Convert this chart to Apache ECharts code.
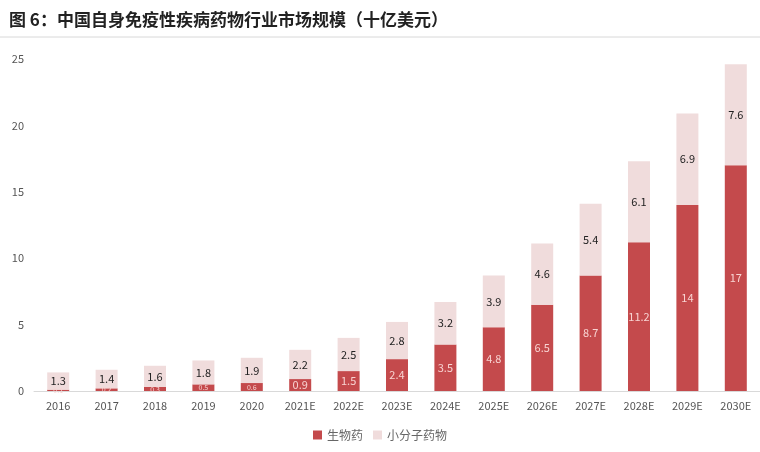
<!DOCTYPE html>
<html><head><meta charset="utf-8">
<script src="https://cdn.jsdelivr.net/npm/echarts@6/dist/echarts.min.js"></script>
<style>html,body{margin:0;padding:0;background:#fff}#c{width:760px;height:452px}</style>
</head><body><div id="c"></div>
<script>
var categories = ['2016','2017','2018','2019','2020','2021E','2022E','2023E','2024E','2025E','2026E','2027E','2028E','2029E','2030E'];
var bioValues = [0.1,0.2,0.3,0.5,0.6,0.9,1.5,2.4,3.5,4.8,6.5,8.7,11.2,14,17];
var smallValues = [1.3,1.4,1.6,1.8,1.9,2.2,2.5,2.8,3.2,3.9,4.6,5.4,6.1,6.9,7.6];
var yTicks = [0,5,10,15,20,25];
var seriesNames = ['生物药','小分子药物'];
var titleText = '图 6：中国自身免疫性疾病药物行业市场规模（十亿美元）';

var font = '"Noto Sans CJK SC", "Noto Sans", sans-serif';
var chart = echarts.init(document.getElementById('c'));
var bioData = bioValues.map(function(v){
  var small = v < 0.7;
  return {value: v, label: {fontSize: small ? 7 : 11}};
});
chart.setOption({
  animation: false,
  backgroundColor: '#fff',
  title: {text: titleText, left: 4, top: 6,
    textStyle: {fontFamily: font, fontSize: 17, fontWeight: 'bold', color: '#222'}},
  graphic: [{type: 'line', shape: {x1: 0, y1: 37, x2: 760, y2: 37},
    style: {stroke: '#d8d8d8', lineWidth: 1}}],
  legend: {bottom: 6, left: 'center', itemWidth: 9, itemHeight: 9, itemGap: 10,
    icon: 'rect',
    textStyle: {fontFamily: font, fontSize: 12, color: '#666'},
    data: seriesNames},
  grid: {left: 34, right: 0, top: 59, bottom: 61, containLabel: false},
  xAxis: {type: 'category', data: categories,
    axisLine: {lineStyle: {color: '#d9d9d9'}},
    axisTick: {show: false},
    axisLabel: {color: '#555', fontSize: 11, fontFamily: font, margin: 9, interval: 0}},
  yAxis: {type: 'value', min: yTicks[0], max: yTicks[yTicks.length-1], interval: 5,
    axisLine: {show: false}, axisTick: {show: false}, splitLine: {show: false},
    axisLabel: {color: '#555', fontSize: 11, fontFamily: font, margin: 10}},
  series: [
    {name: seriesNames[0], type: 'bar', stack: 'total', data: bioData, barWidth: 22,
      itemStyle: {color: '#c44a4c'},
      label: {show: true, position: 'inside', color: '#f8d4d2', fontFamily: font, fontSize: 11}},
    {name: seriesNames[1], type: 'bar', stack: 'total', data: smallValues, barWidth: 22,
      itemStyle: {color: '#f0dcdc'},
      label: {show: true, position: 'inside', color: '#222', fontFamily: font, fontSize: 11}}
  ]
});
</script></body></html>
